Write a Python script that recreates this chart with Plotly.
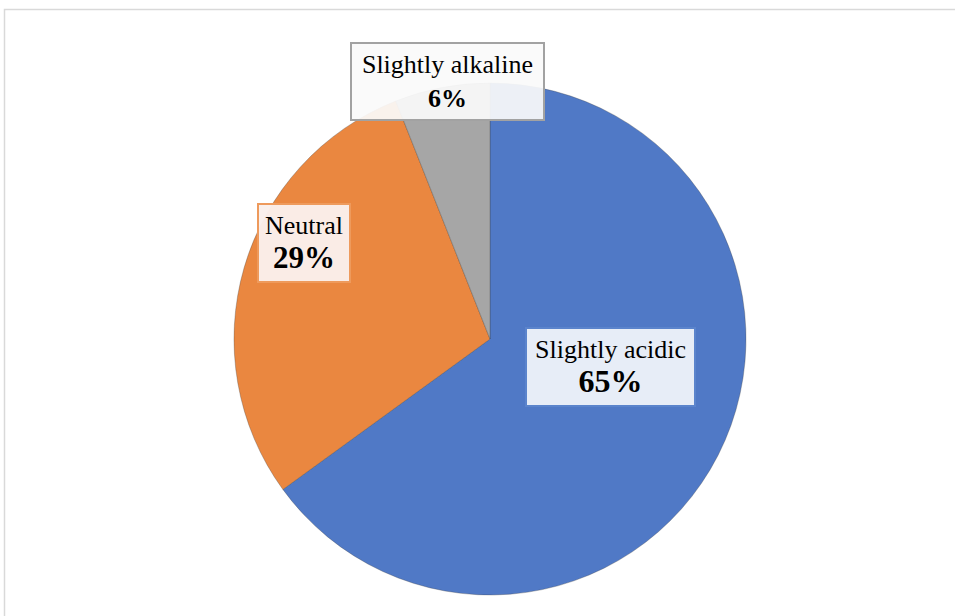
import plotly.graph_objects as go

categories = ["Slightly acidic", "Neutral", "Slightly alkaline"]
values = [65, 29, 6]
colors = ["#5079C6", "#EA8740", "#A6A6A6"]

W, H = 955, 616

fig = go.Figure()
fig.add_trace(go.Pie(
    labels=categories,
    values=values,
    sort=False,
    direction="clockwise",
    rotation=0,
    textinfo="none",
    hoverinfo="label+percent",
    marker=dict(colors=colors, line=dict(color="rgba(60,60,60,0.3)", width=1)),
    domain=dict(x=[(490 - 262) / W, (490 + 262) / W], y=[(616 - 595) / H, (616 - 83) / H]),
    showlegend=False,
))

def px(x):
    return x / W

def py(y):
    return 1 - y / H

font = "Liberation Serif"
label_style = [
    dict(x=447, y=82, w=191, h=75, bg="rgba(250,250,250,0.93)", border="#A2A2A2", pct=26),
    dict(x=304, y=243, w=90, h=76, bg="rgba(250,240,235,0.97)", border="#EE9A5C", pct=31),
    dict(x=610, y=367, w=167, h=76, bg="rgba(236,241,249,0.97)", border="#5B84CC", pct=32),
]
order = [2, 1, 0]
total = sum(values)
for st, idx in zip(label_style, order):
    pct = round(values[idx] / total * 100)
    fig.add_annotation(
        x=px(st["x"]), y=py(st["y"]), xref="paper", yref="paper",
        xanchor="center", yanchor="middle", showarrow=False,
        text=f"{categories[idx]}<br><span style='font-size:{st['pct']}px'><b>{pct}%</b></span>",
        font=dict(family=font, size=26, color="#000000"),
        width=st["w"], height=st["h"],
        bgcolor=st["bg"], bordercolor=st["border"], borderwidth=2, borderpad=0,
        align="center", valign="middle",
    )

fig.add_shape(type="rect", xref="paper", yref="paper",
              x0=px(4.5), x1=px(960), y0=py(625), y1=py(9.5),
              line=dict(color="#D9D9D9", width=1.5), fillcolor="rgba(0,0,0,0)")

fig.update_layout(
    width=W, height=H,
    margin=dict(l=0, r=0, t=0, b=0),
    paper_bgcolor="white", plot_bgcolor="white",
)
fig.write_html("out.html")
